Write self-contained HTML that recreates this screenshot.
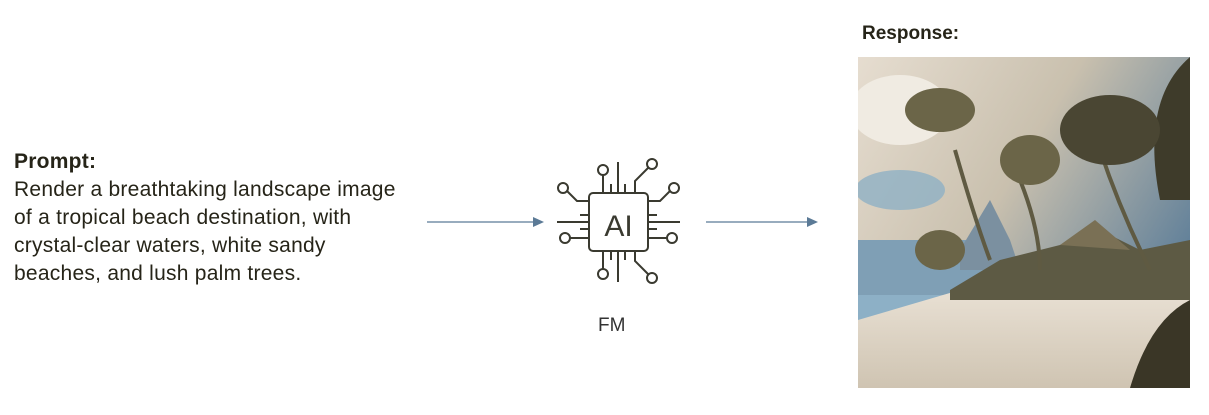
<!DOCTYPE html>
<html><head><meta charset="utf-8"><style>
html,body{margin:0;padding:0;background:#fff;width:1209px;height:415px;overflow:hidden;position:relative;font-family:"Liberation Sans",sans-serif;color:#262418}
.t{position:absolute;left:14px;font-size:21px;letter-spacing:0.25px;line-height:28px;white-space:nowrap}
</style></head><body>
<div class="t" style="top:148px"><b>Prompt:</b><br>Render a breathtaking landscape image<br>of a tropical beach destination, with<br>crystal-clear waters, white sandy<br>beaches, and lush palm trees.</div>
<div style="position:absolute;left:862px;top:23px;font-size:19px;font-weight:bold">Response:</div>
<div style="position:absolute;left:598px;top:315px;font-size:19px;color:#333">FM</div>
<svg width="1209" height="415" style="position:absolute;left:0;top:0">
<defs>
<linearGradient id="sky" x1="0" y1="0" x2="1" y2="0.6"><stop offset="0" stop-color="#e6ddd0"/><stop offset="0.5" stop-color="#c9c0ae"/><stop offset="1" stop-color="#5f7f99"/></linearGradient>
<linearGradient id="sand" x1="0" y1="0" x2="0" y2="1"><stop offset="0" stop-color="#ebe3d7"/><stop offset="1" stop-color="#cfc4b2"/></linearGradient>
<clipPath id="c"><rect x="858" y="57" width="332" height="331"/></clipPath>
</defs>
<g stroke="#5b7a96" stroke-width="1.3" fill="#5b7a96">
<line x1="427" y1="222" x2="534" y2="222"/><path d="M544 222 L533 217 L533 227 Z" stroke="none"/>
<line x1="706" y1="222" x2="808" y2="222"/><path d="M818 222 L807 217 L807 227 Z" stroke="none"/>
</g>
<g stroke="#3a3a30" stroke-width="2" fill="none">
<rect x="589" y="193" width="59" height="58" rx="4"/>
<text x="618.5" y="236" font-size="30" text-anchor="middle" fill="#3a3a30" stroke="none" font-family="Liberation Sans" font-weight="normal">AI</text>
<line x1="618" y1="162" x2="618" y2="193"/><line x1="611" y1="184" x2="611" y2="193"/><line x1="625" y1="184" x2="625" y2="193"/>
<line x1="618" y1="251" x2="618" y2="282"/><line x1="611" y1="251" x2="611" y2="260"/><line x1="625" y1="251" x2="625" y2="260"/>
<line x1="557" y1="222" x2="589" y2="222"/><line x1="580" y1="215" x2="589" y2="215"/><line x1="580" y1="229" x2="589" y2="229"/>
<line x1="648" y1="222" x2="680" y2="222"/><line x1="648" y1="215" x2="657" y2="215"/><line x1="648" y1="229" x2="657" y2="229"/>
<circle cx="603" cy="170" r="5"/><path d="M603 175 V193"/>
<circle cx="652" cy="164" r="5"/><path d="M648 168 L635 181 V193"/>
<circle cx="563" cy="188" r="5"/><path d="M567 191 L577 201 H589"/>
<circle cx="674" cy="188" r="5"/><path d="M670 191 L660 201 H648"/>
<circle cx="565" cy="238" r="5"/><path d="M570 238 H589"/>
<circle cx="672" cy="238" r="5"/><path d="M667 238 H648"/>
<circle cx="603" cy="274" r="5"/><path d="M603 269 V251"/>
<circle cx="652" cy="278" r="5"/><path d="M648 274 L635 261 V251"/>
</g>
<g clip-path="url(#c)">
<rect x="858" y="57" width="332" height="331" fill="url(#sky)"/>
<ellipse cx="900" cy="110" rx="50" ry="35" fill="#f0ebe2"/>
<ellipse cx="900" cy="190" rx="45" ry="20" fill="#8fb0c4" opacity="0.8"/>
<rect x="858" y="240" width="150" height="60" fill="#7f9fb5"/>
<polygon points="960,250 990,200 1010,240 1020,270 960,270" fill="#7b90a0"/>
<rect x="858" y="295" width="150" height="50" fill="#8db0c6"/>
<polygon points="858,320 960,290 1100,280 1190,290 1190,388 858,388" fill="url(#sand)"/>
<polygon points="950,290 1000,260 1060,245 1100,230 1140,250 1190,240 1190,300 950,300" fill="#5d5a44"/>
<polygon points="1060,245 1095,220 1130,250" fill="#7a7055"/>
<path d="M1130 388 Q1150 320 1190 300 V388 Z" fill="#3a3626"/>
<path d="M1190 57 Q1140 100 1160 200 L1190 200 Z" fill="#3e3b2a"/>
<g stroke="#5f5a42" stroke-width="4" fill="none">
<path d="M955 150 Q975 220 990 260"/><path d="M1020 180 Q1040 230 1040 270"/><path d="M1100 150 Q1120 210 1150 270"/>
</g>
<g fill="#6b6548">
<ellipse cx="940" cy="110" rx="35" ry="22"/><ellipse cx="1030" cy="160" rx="30" ry="25"/>
<ellipse cx="1110" cy="130" rx="50" ry="35" fill="#4a4633"/><ellipse cx="940" cy="250" rx="25" ry="20"/>
</g>
</g>
</svg>
</body></html>
